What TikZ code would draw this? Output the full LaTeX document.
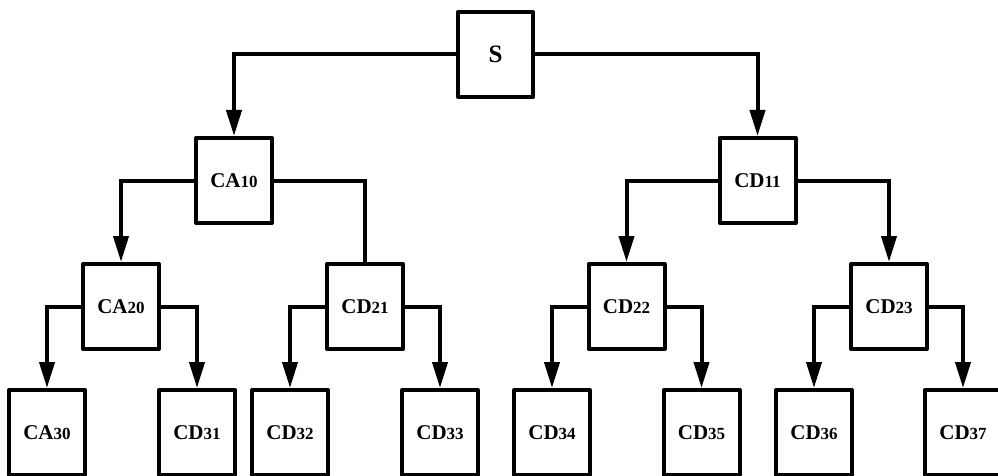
\documentclass[tikz,border=0pt]{standalone}
\usepackage{fontspec}
\setmainfont{Liberation Serif}
\usetikzlibrary{arrows.meta}
\newcommand\lbl[2]{{\fontsize{21}{21}\selectfont #1}{\fontsize{17}{17}\selectfont #2}}
\tikzset{
  box/.style={draw, line width=4pt, line join=round, minimum width=76pt, minimum height=85pt, inner sep=0pt, font=\bfseries, fill=white},
  conn/.style={line width=4pt},
  arr/.style={conn, -{Triangle[length=26pt, width=15pt]}}
}
\begin{document}
\begin{tikzpicture}[x=1pt, y=-1pt]
\useasboundingbox (0,0) rectangle (998,476);
\node[box, minimum width=75pt] (S) at (495.5,54.5) {\fontsize{25}{25}\selectfont S};
\node[box] (CA10) at (234,180.5) {\lbl{CA}{10}};
\node[box] (CD11) at (757.5,180.5) {\lbl{CD}{11}};
\node[box] (CA20) at (121,306.5) {\lbl{CA}{20}};
\node[box] (CD21) at (365,306.5) {\lbl{CD}{21}};
\node[box] (CD22) at (626.5,306.5) {\lbl{CD}{22}};
\node[box] (CD23) at (889,306.5) {\lbl{CD}{23}};
\node[box] (CA30) at (47,432.5) {\lbl{CA}{30}};
\node[box] (CD31) at (197,432.5) {\lbl{CD}{31}};
\node[box] (CD32) at (290,432.5) {\lbl{CD}{32}};
\node[box] (CD33) at (440,432.5) {\lbl{CD}{33}};
\node[box] (CD34) at (552,432.5) {\lbl{CD}{34}};
\node[box] (CD35) at (701.5,432.5) {\lbl{CD}{35}};
\node[box] (CD36) at (814,432.5) {\lbl{CD}{36}};
\node[box] (CD37) at (963,432.5) {\lbl{CD}{37}};
\draw[arr] (S.west) -| (CA10.north);
\draw[arr] (S.east) -| (CD11.north);
\draw[arr] (CA10.west) -| (CA20.north);
\draw[conn] (CA10.east) -| (CD21.north);
\draw[arr] (CD11.west) -| (CD22.north);
\draw[arr] (CD11.east) -| (CD23.north);
\draw[arr] (CA20.west) -| (CA30.north);
\draw[arr] (CA20.east) -| (CD31.north);
\draw[arr] (CD21.west) -| (CD32.north);
\draw[arr] (CD21.east) -| (CD33.north);
\draw[arr] (CD22.west) -| (CD34.north);
\draw[arr] (CD22.east) -| (CD35.north);
\draw[arr] (CD23.west) -| (CD36.north);
\draw[arr] (CD23.east) -| (CD37.north);
\end{tikzpicture}
\end{document}
